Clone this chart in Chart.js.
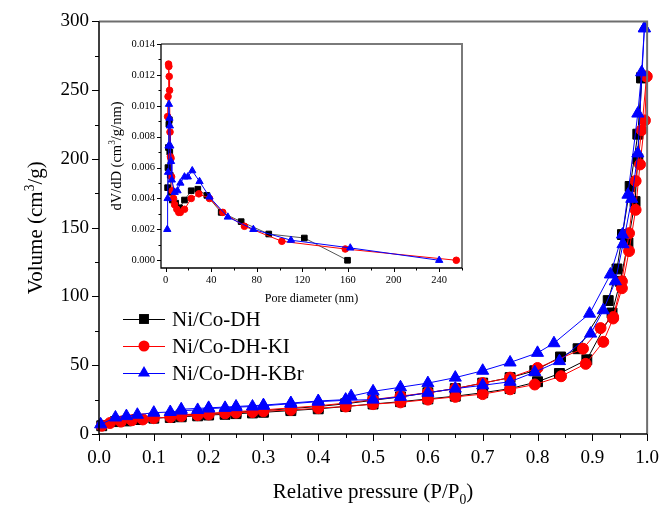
<!DOCTYPE html>
<html>
<head>
<meta charset="utf-8">
<script src="https://cdn.jsdelivr.net/npm/chart.js@4/dist/chart.umd.min.js"></script>
<style>
body { margin: 0; background: #fff; }
#wrap { position: relative; width: 672px; height: 507px; }
#main { position: absolute; left: 0; top: 0; }
#inset { position: absolute; left: 100px; top: 30px; }
</style>
</head>
<body>
<div id="wrap">
<canvas id="main" width="672" height="507"></canvas>
<canvas id="inset" width="380" height="280"></canvas>
</div>
<script>
var fontFam = "'Liberation Serif', 'Times New Roman', serif";

var seriesNames = ['Ni/Co-DH', 'Ni/Co-DH-KI', 'Ni/Co-DH-KBr'];
var seriesColors = ['#000000', '#ff0000', '#0000ff'];
var seriesMarkers = ['rect', 'circle', 'triangle'];

// isotherms: adsorption / desorption branches (P/P0, cm3/g)
var pAdsDH = [0.005, 0.03, 0.05, 0.07, 0.10, 0.13, 0.15, 0.18, 0.20, 0.23, 0.25, 0.28, 0.30, 0.35, 0.40, 0.45, 0.50, 0.55, 0.60, 0.65, 0.70, 0.75, 0.80, 0.84, 0.89, 0.936, 0.951, 0.965, 0.978, 0.983, 0.99];
var vAdsDH = [6, 9, 9.5, 10.5, 11.5, 12, 12.5, 13.2, 13.8, 14.3, 14.8, 15.3, 15.8, 17, 18.3, 20, 21.8, 23.5, 25.5, 27.5, 30, 33, 38, 44, 54, 88, 111, 139, 169, 200, 259];
var pDesDH = [0.99, 0.983, 0.969, 0.955, 0.945, 0.929, 0.874, 0.842, 0.795, 0.75, 0.70, 0.65, 0.60, 0.55, 0.50, 0.45, 0.40, 0.35, 0.30, 0.25, 0.20, 0.15];
var vDesDH = [259, 218, 180, 145, 120, 97, 62, 56, 46, 41, 37, 33, 30, 27, 24.5, 22, 20, 18.5, 17, 15.8, 14.8, 13.8];

var pAdsKI = [0.005, 0.02, 0.04, 0.06, 0.08, 0.10, 0.13, 0.15, 0.18, 0.20, 0.23, 0.25, 0.28, 0.30, 0.35, 0.40, 0.45, 0.50, 0.55, 0.60, 0.65, 0.70, 0.75, 0.795, 0.843, 0.888, 0.92, 0.938, 0.954, 0.967, 0.979, 0.987, 0.996, 0.999];
var vAdsKI = [6, 8, 9, 10, 10.6, 11.5, 12.3, 13, 13.7, 14.2, 15, 15.5, 15.9, 16.5, 17.5, 18.8, 20, 21.7, 23, 25, 27, 29, 32.5, 36, 42, 51, 67, 84, 106, 133, 163, 196, 228, 260];
var pDesKI = [0.999, 0.99, 0.979, 0.967, 0.954, 0.938, 0.915, 0.883, 0.80, 0.75, 0.70, 0.65, 0.60, 0.55, 0.50, 0.45, 0.40, 0.35, 0.30, 0.25, 0.20, 0.15];
var vDesKI = [260, 221, 184, 146, 111, 85, 77, 62, 48, 41, 37, 33, 30, 27.5, 25, 22.5, 20.5, 19, 17.5, 16.3, 15, 14];

var pAdsKBr = [0.003, 0.03, 0.05, 0.07, 0.10, 0.13, 0.15, 0.18, 0.20, 0.23, 0.25, 0.28, 0.30, 0.35, 0.40, 0.45, 0.50, 0.55, 0.60, 0.65, 0.70, 0.75, 0.795, 0.84, 0.897, 0.92, 0.942, 0.956, 0.972, 0.983, 0.995];
var vAdsKBr = [7, 12, 13, 14, 15.5, 16, 17, 17.5, 18.5, 19, 19.5, 20, 20.5, 22, 23.5, 24.5, 25, 27, 30, 33, 35.4, 38, 45, 53, 73, 90, 111, 138, 171, 204, 295];
var pDesKBr = [0.995, 0.99, 0.983, 0.965, 0.955, 0.933, 0.895, 0.83, 0.80, 0.75, 0.70, 0.65, 0.60, 0.55, 0.50, 0.46, 0.45, 0.40, 0.35, 0.30, 0.25, 0.20, 0.15];
var vDesKBr = [295, 263, 233, 174, 145, 116, 87.5, 66, 59, 52, 46, 41, 37, 34, 31, 27.5, 25, 24, 22.5, 21, 20, 19, 18];

// inset: pore size distribution (nm, cm3/g/nm)
var dDH = [1.8, 2.1, 2.5, 2.9, 3.3, 3.7, 4.1, 5.0, 5.9, 8.8, 12.3, 16.6, 22.5, 28.3, 36.2, 48.8, 66.3, 90.5, 121.7, 159.6];
var dvDH = [0.0047, 0.0060, 0.0073, 0.0088, 0.0091, 0.0070, 0.0055, 0.0044, 0.0039, 0.0037, 0.0034, 0.0039, 0.0045, 0.0046, 0.0042, 0.0031, 0.0025, 0.0017, 0.00144, 0.0];
var dKI = [1.8, 2.2, 2.6, 2.9, 3.2, 3.5, 3.9, 4.3, 4.8, 5.3, 5.9, 7.0, 7.9, 9.9, 11.6, 12.9, 16.6, 22.5, 29.2, 38.5, 50.2, 69.2, 102, 157.6, 255];
var dvKI = [0.0093, 0.0106, 0.0127, 0.01255, 0.0119, 0.0110, 0.0083, 0.0067, 0.0066, 0.0054, 0.0045, 0.0040, 0.0036, 0.0033, 0.0031, 0.0031, 0.0033, 0.0040, 0.0043, 0.0040, 0.0031, 0.0022, 0.00123, 0.00073, 0.0];
var dKBr = [1.5, 1.8, 2.2, 2.6, 3.0, 3.4, 3.8, 4.2, 4.8, 5.5, 8.0, 10.5, 13.0, 16.6, 19.5, 23.4, 29.8, 38.5, 54.6, 77, 110, 162, 240];
var dvKBr = [0.0020, 0.0040, 0.0057, 0.0074, 0.0101, 0.0092, 0.0087, 0.0074, 0.0064, 0.0052, 0.0044, 0.0045, 0.0050, 0.0054, 0.0054, 0.0058, 0.0051, 0.0041, 0.0028, 0.0020, 0.0013, 0.0008, 0.0];

var mainXTicks = [0, 0.1, 0.2, 0.3, 0.4, 0.5, 0.6, 0.7, 0.8, 0.9, 1.0];
var mainYTicks = [0, 50, 100, 150, 200, 250, 300];
var insetXTicks = [0, 40, 80, 120, 160, 200, 240];
var insetYTicks = [0, 0.002, 0.004, 0.006, 0.008, 0.010, 0.012, 0.014];

function pts(xs, ys) {
  return xs.map(function (x, i) { return { x: x, y: ys[i] }; });
}

function series(i, xs, ys, r, lineColor, clip) {
  return {
    label: seriesNames[i],
    data: pts(xs, ys),
    showLine: true,
    borderColor: lineColor || seriesColors[i],
    borderWidth: 1,
    pointBackgroundColor: seriesColors[i],
    pointBorderColor: seriesColors[i],
    pointBorderWidth: 1,
    pointStyle: seriesMarkers[i],
    pointRadius: r[i],
    order: 2 - i,
    clip: clip
  };
}

// text with sub/superscript parts, centred at x,y
function richText(ctx, parts, x, y, size, rotate) {
  ctx.save();
  ctx.translate(x, y);
  if (rotate) ctx.rotate(-Math.PI / 2);
  ctx.fillStyle = '#000';
  ctx.textBaseline = 'alphabetic';
  ctx.textAlign = 'left';
  var total = 0;
  parts.forEach(function (p) {
    ctx.font = (p.s ? size * 0.65 : size) + 'px ' + fontFam;
    p.w = ctx.measureText(p.t).width;
    total += p.w;
  });
  var cx = -total / 2;
  parts.forEach(function (p) {
    ctx.font = (p.s ? size * 0.65 : size) + 'px ' + fontFam;
    var dy = p.s === 1 ? -size * 0.42 : (p.s === -1 ? size * 0.28 : 0);
    ctx.fillText(p.t, cx, size * 0.35 + dy);
    cx += p.w;
  });
  ctx.restore();
}

function marker(ctx, style, x, y, r, color) {
  ctx.fillStyle = color;
  ctx.beginPath();
  if (style === 'rect') {
    var s = r * Math.SQRT1_2;
    ctx.rect(x - s, y - s, 2 * s, 2 * s);
  } else if (style === 'circle') {
    ctx.arc(x, y, r, 0, Math.PI * 2);
  } else {
    ctx.moveTo(x, y - r);
    ctx.lineTo(x + r * 0.866, y + r * 0.5);
    ctx.lineTo(x - r * 0.866, y + r * 0.5);
    ctx.closePath();
  }
  ctx.fill();
}

// axis box with major/minor outward ticks, titles
function boxPlugin(cfg) {
  return {
    id: 'box',
    afterDraw: function (chart) {
      var ctx = chart.ctx, a = chart.chartArea;
      var sx = chart.scales.x, sy = chart.scales.y;
      ctx.save();
      ctx.strokeStyle = cfg.edge;
      ctx.lineWidth = cfg.edgeW;
      ctx.beginPath();
      ctx.moveTo(a.left, a.top);
      ctx.lineTo(a.right, a.top);
      ctx.lineTo(a.right, a.bottom);
      ctx.stroke();

      ctx.strokeStyle = '#000';
      ctx.lineWidth = 1;
      var xs = cfg.xTicks, ys = cfg.yTicks;
      var xStep = xs[1] - xs[0], yStep = ys[1] - ys[0];
      ctx.beginPath();
      xs.forEach(function (v) {
        var px = Math.round(sx.getPixelForValue(v)) + 0.5;
        ctx.moveTo(px, a.bottom); ctx.lineTo(px, a.bottom + cfg.major);
        var m = v + xStep / 2;
        if (m <= sx.max + 1e-9) {
          var pm = Math.round(sx.getPixelForValue(m)) + 0.5;
          ctx.moveTo(pm, a.bottom); ctx.lineTo(pm, a.bottom + cfg.minor);
        }
      });
      ys.forEach(function (v) {
        var py = Math.round(sy.getPixelForValue(v)) + 0.5;
        ctx.moveTo(a.left, py); ctx.lineTo(a.left - cfg.major, py);
        var m = v + yStep / 2;
        if (m <= sy.max + 1e-9) {
          var pm = Math.round(sy.getPixelForValue(m)) + 0.5;
          ctx.moveTo(a.left, pm); ctx.lineTo(a.left - cfg.minor, pm);
        }
      });
      ctx.stroke();

      ctx.lineWidth = cfg.axisW;
      ctx.beginPath();
      ctx.moveTo(a.left, a.top);
      ctx.lineTo(a.left, a.bottom);
      ctx.lineTo(a.right, a.bottom);
      ctx.stroke();

      richText(ctx, cfg.xTitle, (a.left + a.right) / 2, a.bottom + cfg.xTitleOff, cfg.titleSize, false);
      richText(ctx, cfg.yTitle, cfg.yTitleX, (a.top + a.bottom) / 2, cfg.yTitleSize || cfg.titleSize, true);

      if (cfg.legend) {
        ctx.font = '21px ' + fontFam;
        ctx.textBaseline = 'middle';
        ctx.textAlign = 'left';
        seriesNames.forEach(function (name, i) {
          var y = 319 + i * 27;
          ctx.strokeStyle = seriesColors[i];
          ctx.lineWidth = 1;
          ctx.beginPath();
          ctx.moveTo(123, y + 0.5); ctx.lineTo(165, y + 0.5);
          ctx.stroke();
          marker(ctx, seriesMarkers[i], 144, y, [7, 5.5, 7][i], seriesColors[i]);
          ctx.fillStyle = '#000';
          ctx.fillText(name, 172, y + 1);
        });
      }
      ctx.restore();
    }
  };
}

function isClose(v, list) {
  return list.some(function (t) { return Math.abs(t - v) < 1e-9; });
}

Chart.defaults.font.family = fontFam;
Chart.defaults.color = '#000';

var mainR = [7, 5.5, 7];
new Chart(document.getElementById('main'), {
  type: 'scatter',
  data: {
    datasets: [
      series(0, pAdsDH, vAdsDH, mainR, null, false),
      series(0, pDesDH, vDesDH, mainR, null, false),
      series(1, pAdsKI, vAdsKI, mainR, null, false),
      series(1, pDesKI, vDesKI, mainR, null, false),
      series(2, pAdsKBr, vAdsKBr, mainR, null, false),
      series(2, pDesKBr, vDesKBr, mainR, null, false)
    ]
  },
  options: {
    responsive: false,
    animation: false,
    layout: { padding: { top: 19, right: 14, left: 0, bottom: 0 } },
    plugins: { legend: { display: false }, tooltip: { enabled: false } },
    scales: {
      x: {
        type: 'linear', min: 0, max: 1,
        grid: { display: false, drawTicks: false },
        border: { display: false },
        afterBuildTicks: function (s) { s.ticks = mainXTicks.map(function (v) { return { value: v }; }); },
        afterFit: function (s) { s.height = 73; },
        ticks: {
          padding: 13, maxRotation: 0, autoSkip: false,
          font: { size: 19 },
          callback: function (v) { return isClose(v, mainXTicks) ? v.toFixed(1) : ''; }
        }
      },
      y: {
        min: 0, max: 300,
        grid: { display: false, drawTicks: false },
        border: { display: false },
        afterBuildTicks: function (s) { s.ticks = mainYTicks.map(function (v) { return { value: v }; }); },
        afterFit: function (s) { s.width = 99; },
        ticks: {
          padding: 10, autoSkip: false,
          font: { size: 19 },
          callback: function (v) { return String(v); }
        }
      }
    }
  },
  plugins: [boxPlugin({
    edge: '#6e6e6e', edgeW: 2, axisW: 1.5, major: 7, minor: 4,
    xTicks: mainXTicks, yTicks: mainYTicks,
    xTitle: [{ t: 'Relative pressure (P/P' }, { t: '0', s: -1 }, { t: ')' }],
    yTitle: [{ t: 'Volume (cm' }, { t: '3', s: 1 }, { t: '/g)' }],
    xTitleOff: 57, yTitleX: 35, titleSize: 21, legend: true
  })]
});

var insetR = [4, 3.3, 4.2];
new Chart(document.getElementById('inset'), {
  type: 'scatter',
  data: {
    datasets: [
      series(0, dDH, dvDH, insetR, '#555555', false),
      series(1, dKI, dvKI, insetR, null, false),
      series(2, dKBr, dvKBr, insetR, null, false)
    ]
  },
  options: {
    responsive: false,
    animation: false,
    layout: { padding: { top: 14, right: 18, left: 0, bottom: 0 } },
    plugins: { legend: { display: false }, tooltip: { enabled: false } },
    scales: {
      x: {
        type: 'linear', min: -4, max: 260,
        grid: { display: false, drawTicks: false },
        border: { display: false },
        afterBuildTicks: function (s) { s.ticks = insetXTicks.map(function (v) { return { value: v }; }); },
        afterFit: function (s) { s.height = 42; },
        ticks: {
          padding: 6, maxRotation: 0, autoSkip: false,
          font: { size: 10.5 },
          callback: function (v) { return String(v); }
        }
      },
      y: {
        min: -0.0005, max: 0.014,
        grid: { display: false, drawTicks: false },
        border: { display: false },
        afterBuildTicks: function (s) { s.ticks = insetYTicks.map(function (v) { return { value: v }; }); },
        afterFit: function (s) { s.width = 61; },
        ticks: {
          padding: 6, autoSkip: false,
          font: { size: 10.5 },
          callback: function (v) { return v.toFixed(3); }
        }
      }
    }
  },
  plugins: [boxPlugin({
    edge: '#7a7a7a', edgeW: 2, axisW: 1.3, major: 4, minor: 2.5,
    xTicks: insetXTicks, yTicks: insetYTicks,
    xTitle: [{ t: 'Pore diameter (nm)' }],
    yTitle: [{ t: 'dV/dD (cm' }, { t: '3', s: 1 }, { t: '/g/nm)' }],
    xTitleOff: 30, yTitleX: 16, titleSize: 12, yTitleSize: 14.5, legend: false
  })]
});
</script>
</body>
</html>
